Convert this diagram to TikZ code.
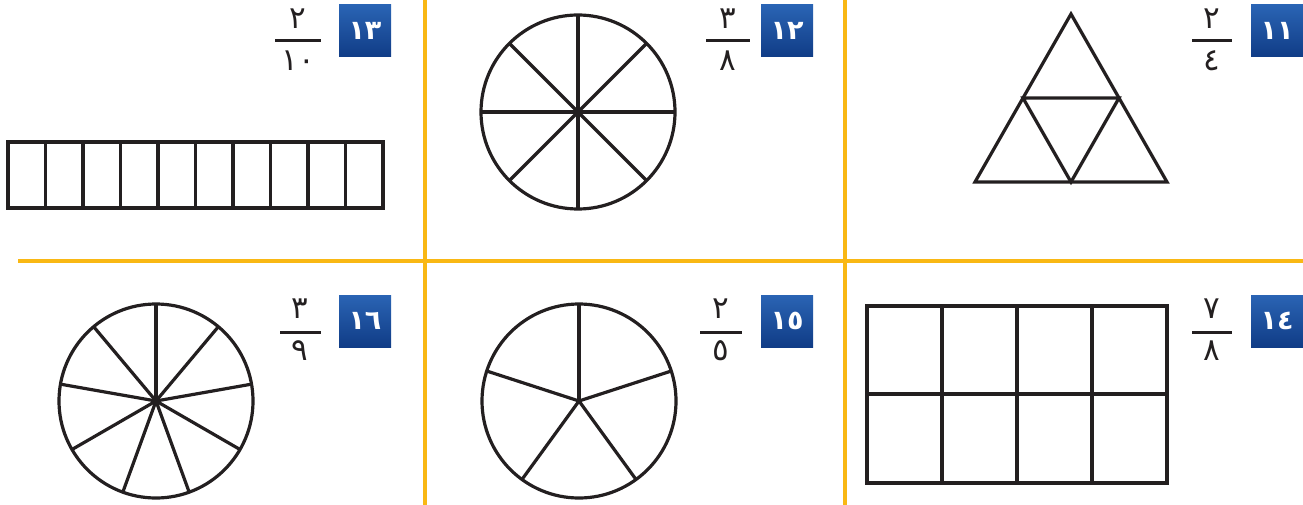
\documentclass[tikz,border=0pt]{standalone}
\usepackage{fontspec}
\newfontfamily\arabicfont[Script=Arabic]{DejaVu Sans}
\usetikzlibrary{calc}
\definecolor{gridorange}{HTML}{F9B814}
\definecolor{badgetop}{HTML}{2A64B4}
\definecolor{badgebot}{HTML}{103C86}
\definecolor{ink}{HTML}{231F20}
\tikzset{
  shapeline/.style={draw=ink, line width=3.2pt, line join=miter},
  divider/.style={draw=gridorange, line width=3.5pt},
  badge/.style={minimum size=52pt, inner sep=0pt, text=white,
    font=\arabicfont\bfseries\fontsize{27}{27}\selectfont,
    top color=badgetop, bottom color=badgebot},
  digit/.style={font=\arabicfont\fontsize{31}{31}\selectfont, text=ink, inner sep=0pt},
  fracbar/.style={draw=ink, line width=3pt},
}
\begin{document}
\begin{tikzpicture}[x=1pt,y=-1pt]
\useasboundingbox (0,0) rectangle (1303,505);
% dividers
\coordinate (v1t) at (425,0); \coordinate (v1b) at (425,505);
\coordinate (v2t) at (845,0); \coordinate (v2b) at (845,505);
\coordinate (hl) at (18,261); \coordinate (hr) at (1303,261);
\draw[divider] (v1t) -- (v1b);
\draw[divider] (v2t) -- (v2b);
\draw[divider] (hl) -- (hr);

% badges
\node[badge] (b13) at (365,31) {١٣};
\node[badge] (b12) at (787,31) {١٢};
\node[badge] (b11) at (1277,31) {١١};
\node[badge] (b16) at (365,321) {١٦};
\node[badge] (b15) at (787,321) {١٥};
\node[badge] (b14) at (1277,321) {١٤};

% fractions
\node[digit] (n13) at (298,19) {٢};
\node[digit] (d13) at (298,61) {١٠};
\draw[fracbar] (275,41) -- (321,41);
\node[digit] (n12) at (728,19) {٣};
\node[digit] (d12) at (728,61) {٨};
\draw[fracbar] (706,41) -- (750,41);
\node[digit] (n11) at (1212,19) {٢};
\node[digit] (d11) at (1212,61) {٤};
\draw[fracbar] (1192,41) -- (1232,41);
\node[digit] (n16) at (300,309) {٣};
\node[digit] (d16) at (300,351) {٩};
\draw[fracbar] (280,332) -- (321,332);
\node[digit] (n15) at (721,309) {٢};
\node[digit] (d15) at (721,351) {٥};
\draw[fracbar] (700,332) -- (742,332);
\node[digit] (n14) at (1212,309) {٧};
\node[digit] (d14) at (1212,351) {٨};
\draw[fracbar] (1192,332) -- (1232,332);

% 13: strip of 10
\draw[shapeline] (8,142) rectangle (383,208);
\foreach \i in {1,...,9} \draw[shapeline] ({8+37.5*\i},142) -- ({8+37.5*\i},208);

% 12: circle in 8
\coordinate (c12) at (578,112);
\draw[shapeline] (c12) circle[radius=97];
\foreach \a in {0,45,...,315} \draw[shapeline] (c12) -- ++(\a:97);

% 11: triangle in 4
\coordinate (t1) at (1071,14); \coordinate (t2) at (975,182); \coordinate (t3) at (1167,182);
\draw[shapeline] (t1) -- (t2) -- (t3) -- cycle;
\draw[shapeline] ($(t1)!0.5!(t2)$) -- ($(t1)!0.5!(t3)$) -- ($(t2)!0.5!(t3)$) -- cycle;

% 16: circle in 9
\coordinate (c16) at (156,401);
\draw[shapeline] (c16) circle[radius=97];
\foreach \k in {0,...,8} \draw[shapeline] (c16) -- ++({-(90-40*\k)}:97);

% 15: circle in 5
\coordinate (c15) at (579,401);
\draw[shapeline] (c15) circle[radius=97];
\foreach \k in {0,...,4} \draw[shapeline] (c15) -- ++({-(90-72*\k)}:97);

% 14: rectangle in 8
\draw[shapeline] (867,306) rectangle (1167,483);
\draw[shapeline] (867,394) -- (1167,394);
\foreach \i in {1,2,3} \draw[shapeline] ({867+75*\i},306) -- ({867+75*\i},483);
\end{tikzpicture}
\end{document}
